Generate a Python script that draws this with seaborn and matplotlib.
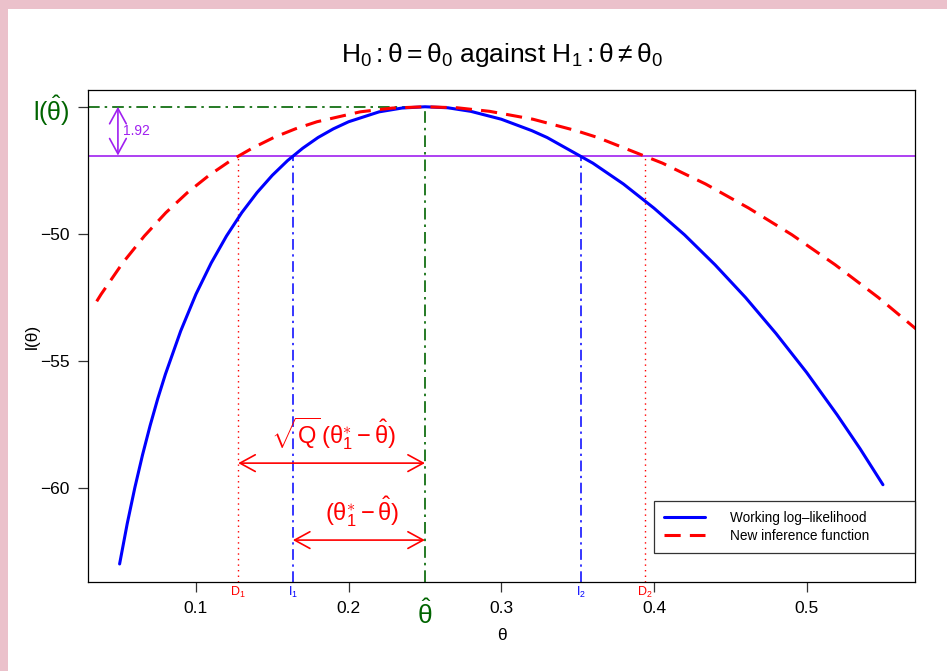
import matplotlib
matplotlib.use("Agg")
import matplotlib.pyplot as plt
import seaborn as sns
import pandas as pd
from matplotlib.patches import Rectangle

# ---------------- data ----------------
theta_blue = [0.050, 0.055, 0.060, 0.065, 0.070, 0.075, 0.080, 0.090, 0.100, 0.110,
              0.120, 0.130, 0.140, 0.150, 0.160, 0.170, 0.180, 0.190, 0.200, 0.220,
              0.235, 0.250, 0.265, 0.280, 0.300, 0.320, 0.330, 0.360, 0.380, 0.400,
              0.420, 0.440, 0.460, 0.480, 0.500, 0.520, 0.535, 0.550]
loglik_blue = [-62.99, -61.40, -59.98, -58.70, -57.54, -56.48, -55.52, -53.82, -52.37, -51.14,
               -50.08, -49.16, -48.37, -47.69, -47.11, -46.62, -46.20, -45.86, -45.58, -45.19,
               -45.04, -44.99, -45.03, -45.17, -45.48, -45.93, -46.20, -47.21, -48.03, -48.98,
               -50.03, -51.21, -52.50, -53.92, -55.45, -57.12, -58.45, -59.87]

theta_red = [0.0350, 0.0379, 0.0520, 0.0662, 0.0803, 0.0944, 0.1086, 0.1227, 0.1369, 0.1510,
             0.1651, 0.1793, 0.2076, 0.2288, 0.2500, 0.2712, 0.2924, 0.3207, 0.3490, 0.3631,
             0.4056, 0.4338, 0.4621, 0.4904, 0.5187, 0.5470, 0.5753, 0.6036]
inf_red = [-52.65, -52.37, -51.14, -50.08, -49.16, -48.37, -47.69, -47.11, -46.62, -46.20,
           -45.86, -45.58, -45.19, -45.04, -44.99, -45.03, -45.17, -45.48, -45.93, -46.20,
           -47.21, -48.03, -48.98, -50.03, -51.21, -52.50, -53.92, -55.45]

theta_hat = 0.25
l_hat = -44.99
drop = 1.92
cut_level = l_hat - drop
I_bounds = [0.1635, 0.352]
D_bounds = [0.1277, 0.3943]
x_ticks = [0.1, 0.2, 0.3, 0.4, 0.5]
x_ticklabels = ["0.1", "0.2", "0.3", "0.4", "0.5"]
y_ticks = [-60, -55, -50]
y_ticklabels = ["\u221260", "\u221255", "\u221250"]
legend_labels = ["Working log\u2013likelihood", "New inference function"]
arrow_x_drop = 0.0489
arrow_y_outer = -59.02
arrow_y_inner = -62.05

# ---------------- style ----------------
sns.set_theme(style="white")
plt.rcParams["font.family"] = ["Liberation Sans", "DejaVu Sans"]
plt.rcParams["mathtext.fontset"] = "custom"
plt.rcParams["mathtext.rm"] = "Liberation Sans"
plt.rcParams["mathtext.it"] = "Liberation Sans"
plt.rcParams["mathtext.bf"] = "Liberation Sans:bold"
plt.rcParams["text.color"] = "black"
plt.rcParams["axes.labelcolor"] = "black"
plt.rcParams["xtick.color"] = "black"
plt.rcParams["ytick.color"] = "black"

BLUE = "#0000FF"
RED = "#FF0000"
GREEN = "#006400"
PURPLE = "#A020F0"
PINK = "#EBC1CB"

fig = plt.figure(figsize=(9.47, 6.71), dpi=100, facecolor=PINK)
fig.patches.append(Rectangle((8 / 947, 0), 1, 1 - 9 / 671, transform=fig.transFigure,
                             facecolor="white", edgecolor="none", zorder=-10))
ax = fig.add_axes([88 / 947, 1 - 582 / 671, (915 - 88) / 947, (582 - 90) / 671])
ax.set_zorder(5)
ax.set_facecolor("white")

df_blue = pd.DataFrame({"theta": theta_blue, "l": loglik_blue})
df_red = pd.DataFrame({"theta": theta_red, "l": inf_red})
sns.lineplot(data=df_blue, x="theta", y="l", ax=ax, color=BLUE, lw=2.2,
             label=legend_labels[0], sort=False, estimator=None)
sns.lineplot(data=df_red, x="theta", y="l", ax=ax, color=RED, lw=2.2,
             label=legend_labels[1], sort=False, estimator=None)
ax.lines[1].set_dashes([5.3, 3])

ax.set_xlim(0.0293, 0.571)
ax.set_ylim(-63.70, -44.33)

# reference lines
dashdot = (0, (7, 3, 1.5, 3))
ax.axhline(cut_level, color=PURPLE, lw=1.2, zorder=1)
ax.plot([0.0293, theta_hat], [l_hat, l_hat], color=GREEN, lw=1.2, ls=dashdot, zorder=1)
ax.plot([theta_hat, theta_hat], [-63.70, l_hat], color=GREEN, lw=1.2, ls=dashdot, zorder=1)
for xi in I_bounds:
    ax.plot([xi, xi], [-63.70, cut_level], color=BLUE, lw=1.1, ls=dashdot, zorder=1)
for xd in D_bounds:
    ax.plot([xd, xd], [-63.70, cut_level], color=RED, lw=1.0, ls=(0, (1, 3)), zorder=1)

# arrows
aprops = dict(arrowstyle="<->,head_length=1.1,head_width=0.6", lw=1.2, shrinkA=0, shrinkB=0,
              mutation_scale=10)
ax.annotate("", xy=(arrow_x_drop, cut_level), xytext=(arrow_x_drop, l_hat),
            arrowprops=dict(aprops, color=PURPLE))
ax.text(arrow_x_drop + 0.003, (l_hat + cut_level) / 2, "1.92", color=PURPLE, fontsize=10,
        va="center", ha="left")
ax.annotate("", xy=(D_bounds[0], arrow_y_outer), xytext=(theta_hat, arrow_y_outer),
            arrowprops=dict(aprops, color=RED))
ax.annotate("", xy=(I_bounds[0], arrow_y_inner), xytext=(theta_hat, arrow_y_inner),
            arrowprops=dict(aprops, color=RED))
ax.text(0.190, arrow_y_outer + 0.45,
        r"$\sqrt{\mathrm{Q}}\,(\mathrm{θ}_1^{\ast}-\hat{\mathrm{θ}})$",
        color=RED, fontsize=17, ha="center", va="bottom")
ax.text(0.209, arrow_y_inner + 0.45,
        r"$(\mathrm{θ}_1^{\ast}-\hat{\mathrm{θ}})$",
        color=RED, fontsize=17, ha="center", va="bottom")

# axes ticks
ax.set_xticks(x_ticks)
ax.set_xticklabels(x_ticklabels)
ax.set_yticks(y_ticks + [l_hat])
ax.set_yticklabels(y_ticklabels + [r"$\mathrm{l(\hat{θ})}$"])
ax.tick_params(axis="both", which="both", direction="out", length=7, width=0.9,
               colors="#333333", labelcolor="black", labelsize=12.5,
               left=True, bottom=True, right=False, top=False)
ax.tick_params(axis="x", pad=7)
ax.tick_params(axis="y", pad=6)
ylabs = ax.get_yticklabels()
ylabs[-1].set_color(GREEN)
ylabs[-1].set_fontsize(18)
for s in ax.spines.values():
    s.set_color("black")
    s.set_linewidth(0.9)

# labels under the axis
trans = ax.get_xaxis_transform()
for xd, lab in zip(D_bounds, [r"$\mathrm{D_1}$", r"$\mathrm{D_2}$"]):
    ax.text(xd, -0.005, lab, color=RED, fontsize=9, ha="center", va="top", transform=trans)
for xi, lab in zip(I_bounds, [r"$\mathrm{I_1}$", r"$\mathrm{I_2}$"]):
    ax.text(xi, -0.005, lab, color=BLUE, fontsize=9, ha="center", va="top", transform=trans)
ax.text(theta_hat, -0.035, r"$\hat{\mathrm{θ}}$", color=GREEN, fontsize=19, ha="center",
        va="top", transform=trans)

ax.set_xlabel("θ", fontsize=12.5, labelpad=8)
ax.set_ylabel("l(θ)", fontsize=12.5)
ax.yaxis.set_label_coords(-0.058, 0.5)
ax.set_title(r"$\mathrm{H_0:θ=θ_0\ against\ H_1:θ\neq θ_0}$", fontsize=19, pad=20,
             color="black")

leg = ax.legend(loc="lower left", bbox_to_anchor=(0.6844, 0.0589, 0.3156, 0.1), mode="expand",
                fontsize=9.8, frameon=True, fancybox=False, handlelength=3.0, borderpad=0.75,
                labelspacing=0.3, handletextpad=1.8, borderaxespad=0)
leg.get_frame().set_edgecolor("black")
leg.get_frame().set_linewidth(0.9)
for t in leg.get_texts():
    t.set_color("black")

fig.savefig("out.png", dpi=100, facecolor=PINK)
